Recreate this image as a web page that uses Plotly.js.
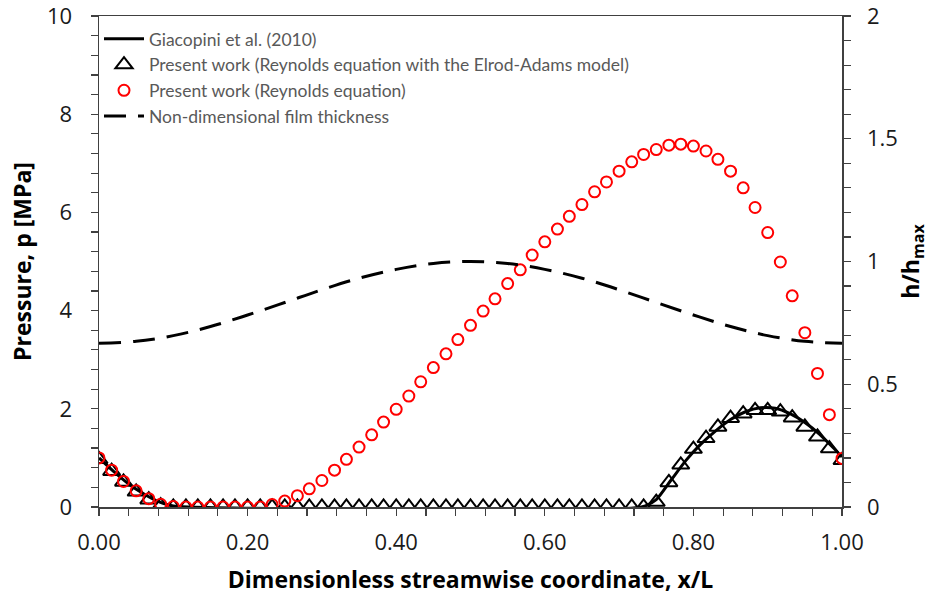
<!DOCTYPE html>
<html>
<head>
<meta charset="utf-8">
<script src="https://cdn.plot.ly/plotly-3.0.1.min.js"></script>
<style>html,body{margin:0;padding:0;background:#fff;}#chart{width:946px;height:600px;}</style>
</head>
<body>
<div id="chart"></div>
<script>
// x grid of the present-work results (x/L)
const xGrid = [0.000,0.017,0.033,0.050,0.067,0.083,0.100,0.117,0.133,0.150,
  0.167,0.183,0.200,0.217,0.233,0.250,0.267,0.283,0.300,0.317,
  0.333,0.350,0.367,0.383,0.400,0.417,0.433,0.450,0.467,0.483,
  0.500,0.517,0.533,0.550,0.567,0.583,0.600,0.617,0.633,0.650,
  0.667,0.683,0.700,0.717,0.733,0.750,0.767,0.783,0.800,0.817,
  0.833,0.850,0.867,0.883,0.900,0.917,0.933,0.950,0.967,0.983,1.000];

// Present work (Reynolds equation with the Elrod-Adams model), MPa
const pElrod = [0.97,0.73,0.51,0.31,0.15,0.03,0,0,0,0,
  0,0,0,0,0,0,0,0,0,0,
  0,0,0,0,0,0,0,0,0,0,
  0,0,0,0,0,0,0,0,0,0,
  0,0,0,0,0,0.10,0.50,0.86,1.18,1.40,
  1.63,1.81,1.90,1.97,1.97,1.94,1.82,1.63,1.43,1.19,0.95];

// Present work (Reynolds equation), MPa
const pReynolds = [1.00,0.75,0.52,0.33,0.17,0.055,0.01,0,0,0,
  0,0,0,0,0.05,0.12,0.23,0.37,0.54,0.75,
  0.97,1.22,1.47,1.73,1.99,2.26,2.55,2.84,3.12,3.41,
  3.70,3.99,4.24,4.55,4.83,5.13,5.40,5.66,5.92,6.16,
  6.42,6.62,6.84,7.03,7.18,7.28,7.37,7.39,7.35,7.25,
  7.08,6.84,6.50,6.10,5.59,4.99,4.30,3.55,2.72,1.88,0.99];

// Giacopini et al. (2010)
const xGiacopini = [0,0.02,0.04,0.06,0.08,0.10,0.12,0.73,0.75,0.77,0.79,0.81,0.83,0.85,0.87,0.89,0.91,0.93,0.95,0.97,0.99,1.00];
const pGiacopini = [1.0,0.72,0.47,0.27,0.11,0.02,0,0,0.15,0.55,0.95,1.28,1.55,1.78,1.94,2.02,2.01,1.90,1.72,1.48,1.18,1.02];

// Non-dimensional film thickness h/hmax
const xFilm = [0,0.05,0.10,0.15,0.20,0.25,0.30,0.35,0.40,0.45,0.50,0.55,0.60,0.65,0.70,0.75,0.80,0.85,0.90,0.95,1.00];
const hFilm = [0.667,0.675,0.698,0.735,0.782,0.833,0.885,0.932,0.968,0.992,1.0,0.992,0.968,0.932,0.885,0.833,0.782,0.735,0.698,0.675,0.667];

const names = ['Giacopini et al. (2010)',
  'Present work (Reynolds equation with the Elrod-Adams model)',
  'Present work (Reynolds equation)',
  'Non-dimensional film thickness'];

const FONT = '"Open Sans", Lato, sans-serif';
const LFONT = 'Lato, "Open Sans", sans-serif';
const AXC = '#404040';
const TXT = '#1a1a1a';

const traces = [
  {x:xFilm, y:hFilm, yaxis:'y2', type:'scatter', mode:'lines', name:names[3], legendrank:4,
   line:{color:'#000', width:3, dash:'22px,12px', shape:'spline'}},
  {x:xGrid, y:pElrod, type:'scatter', mode:'markers', name:names[1], legendrank:2,
   marker:{symbol:'triangle-up-open', size:15, color:'#000', line:{width:2, color:'#000'}}},
  {x:xGiacopini, y:pGiacopini, type:'scatter', mode:'lines', name:names[0], legendrank:1,
   line:{color:'#000', width:3, shape:'spline', smoothing:0.6}},
  {x:xGrid, y:pReynolds, type:'scatter', mode:'markers', name:names[2], legendrank:3,
   marker:{symbol:'circle-open', size:11, color:'#ff0000', line:{width:2, color:'#ff0000'}}}
];

const tickCommon = {ticks:'outside', ticklen:7, tickwidth:1.2, tickcolor:AXC,
  showline:true, linecolor:AXC, linewidth:1.5, showgrid:false, zeroline:false,
  ticklabeloverflow:'allow',
  tickfont:{family:FONT, size:22, color:TXT}};
const titleFont = {family:FONT, size:23, color:'#000', weight:'bold'};

const layout = {
  width:946, height:600,
  margin:{l:99, r:104, t:16, b:93},
  paper_bgcolor:'#fff', plot_bgcolor:'#fff',
  font:{family:FONT, size:19, color:TXT},
  showlegend:true,
  legend:{x:0.0, y:0.99, xanchor:'left', yanchor:'top', bgcolor:'rgba(0,0,0,0)',
    font:{family:LFONT, size:17.5, color:'#595959'}, traceorder:'normal', itemwidth:40, tracegroupgap:0},
  xaxis:Object.assign({}, tickCommon, {range:[0,1], dtick:0.2, tick0:0, tickformat:'.2f', mirror:true,
    ticklabelstandoff:8,
    minor:{dtick:0.04, ticks:'outside', ticklen:7, tickwidth:1.2, tickcolor:AXC},
    title:{text:'Dimensionless streamwise coordinate, x/L', font:titleFont, standoff:17}}),
  yaxis:Object.assign({}, tickCommon, {range:[0,10], dtick:2, tick0:0,
    ticklabelstandoff:14,
    minor:{dtick:0.4, ticks:'outside', ticklen:7, tickwidth:1.2, tickcolor:AXC},
    title:{text:'Pressure, p [MPa]', font:titleFont, standoff:9}}),
  yaxis2:Object.assign({}, tickCommon, {range:[0,2], dtick:0.5, tick0:0, overlaying:'y', side:'right',
    ticklabelstandoff:12,
    minor:{dtick:0.1, ticks:'outside', ticklen:7, tickwidth:1.2, tickcolor:AXC},
    title:{text:'h/h<sub>max</sub>', font:titleFont, standoff:6}})
};

Plotly.newPlot('chart', traces, layout, {displayModeBar:false, staticPlot:true});
</script>
</body>
</html>
